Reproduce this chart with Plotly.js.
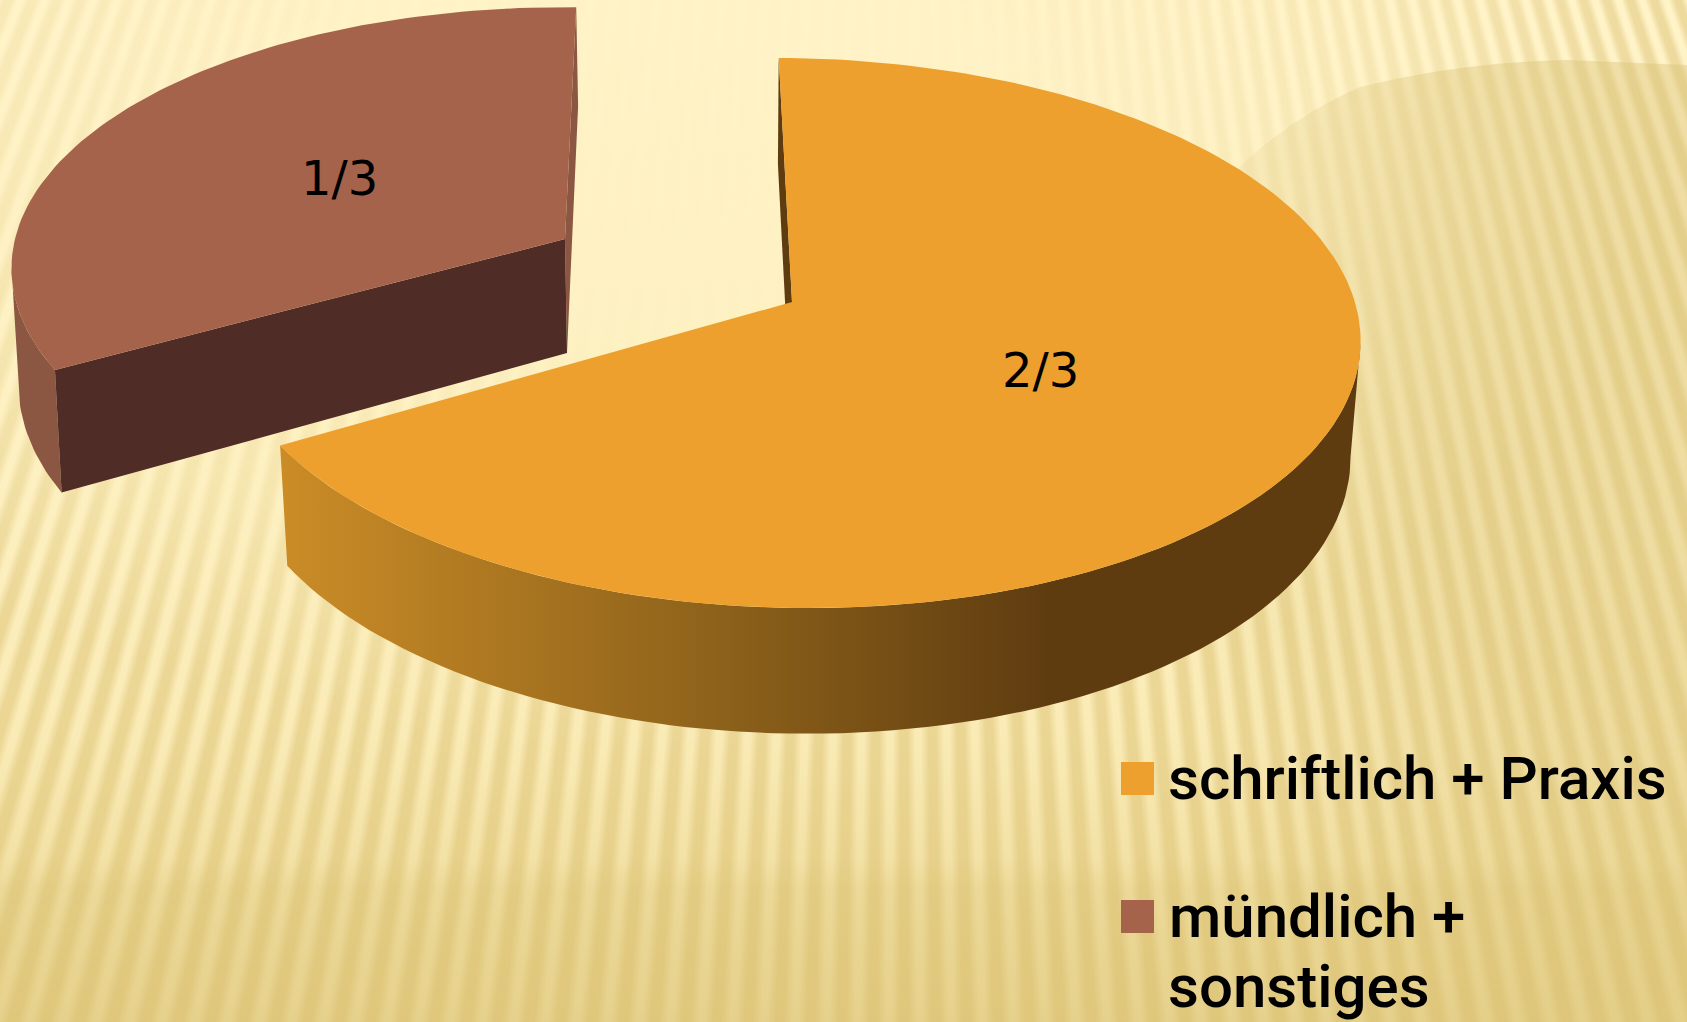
<!DOCTYPE html>
<html><head><meta charset="utf-8">
<script src="https://cdn.plot.ly/plotly-3.0.1.min.js"></script>
<style>
html,body{margin:0;padding:0;width:1687px;height:1022px;overflow:hidden;background:#fdf0c2}
.bg{position:absolute;left:0;top:0;width:1687px;height:1022px}
#base{background:linear-gradient(180deg,#fff3c8 0%,#fdf0c0 50%,#faebb6 72%,#f3e2a6 84%,#ecd998 87%,#e6d18c 100%)}
#stripes{background:repeating-conic-gradient(from 150deg at 900px -2217px,rgba(214,184,100,0) 0deg,rgba(214,184,100,.42) .15deg,rgba(214,184,100,.42) .29deg,rgba(214,184,100,0) .44deg,rgba(214,184,100,0) .55deg);
-webkit-mask-image:radial-gradient(ellipse 1000px 620px at 660px 130px,rgba(0,0,0,.03) 35%,rgba(0,0,0,.5) 75%,#000 100%);mask-image:radial-gradient(ellipse 1000px 620px at 660px 130px,rgba(0,0,0,.03) 35%,rgba(0,0,0,.5) 75%,#000 100%)}
#disc{background:radial-gradient(ellipse 560px 900px at 1687px 300px,rgba(214,190,112,.40) 0%,rgba(214,190,112,.36) 50%,rgba(214,190,112,0) 100%);
clip-path:path('M1150 250 L1250 157 Q1300 113 1360 87 Q1460 62 1567 60 L1687 65 L1687 1022 L1000 1022 L1000 600 Z')}
#chart{position:absolute;left:0;top:0;width:1687px;height:1022px}
</style></head><body>
<div class="bg" id="base"></div><div class="bg" id="stripes"></div><div class="bg" id="disc"></div>
<div id="chart"></div>
<script>
const categories = ["schriftlich + Praxis", "mündlich +", "sonstiges"];
const shares = [2/3, 1/3];
const shareLabels = ["2/3", "1/3"];
const sliceColors = ["#EDA02D", "#A5634C"];

// perspective rim of a disc: value fraction -> picture coordinates
const K = 0.1127;
function rim(d, frac){
  const th = (d.start + frac*360)*Math.PI/180, w = 1 + K*Math.cos(th);
  return [d.ax + d.A*Math.sin(th)/w, d.ay + (-d.B*Math.cos(th) + d.s*Math.sin(th))/w];
}
function arc(d, f0, f1, n){
  const p=[]; for(let i=0;i<=n;i++) p.push(rim(d, f0+(f1-f0)*i/n)); return p;
}
function poly(pts, color, name, extra){
  return Object.assign({type:"scatter",mode:"lines",x:pts.map(p=>p[0]),y:pts.map(p=>p[1]),fill:"toself",
    fillcolor:color,line:{width:0,color:color},name:name,hoverinfo:"skip",showlegend:false},extra||{});
}
const oTop={ax:792,ay:302,A:565,B:271.5,s:8,start:-1.5};
const oBot={ax:791,ay:417,A:556,B:280.9,s:8,start:-1.5};
const bTop={ax:565,ay:239,A:550,B:258,s:0,start:241.3};
const bBot={ax:567,ay:353,A:545,B:275,s:0,start:241.3};

const f=shares[0], g=shares[1];
const oApex=[oTop.ax,oTop.ay], oApexB=[oBot.ax,oBot.ay], bApex=[bTop.ax,bTop.ay], bApexB=[bBot.ax,bBot.ay];
const traces=[
  // exploded slice
  poly(arc(bTop,0,0.0625,20).concat(arc(bBot,0,0.0625,20).reverse()),"#8B5743",categories[1]),
  poly([bApex,rim(bTop,g),rim(bBot,g),bApexB],"#8B5743",categories[1]),
  poly([bApex,rim(bTop,0),rim(bBot,0),bApexB],"#4F2C25",categories[1]),
  poly([bApex].concat(arc(bTop,0,g,90)),sliceColors[1],categories[1]),
  // main slice
  poly([oApex,rim(oTop,0),rim(oBot,0),oApexB],"#5F3C10",categories[0]),
  poly(arc(oTop,0.272,f,90).concat(arc(oBot,0.272,f,90).reverse()),"#5F3C10",categories[0],
    {fillgradient:{type:"horizontal",start:281,stop:1050,
      colorscale:[[0,"#CB8C27"],[0.55,"#8F631B"],[1,"#5F3C10"]]}}),
  poly([oApex].concat(arc(oTop,0,f,180)),sliceColors[0],categories[0])
];
const legendFont={family:"Roboto",size:60,weight:500,color:"#000"};
const labelFont={family:"DejaVu Sans",size:48,color:"#000"};
const layout={
  width:1687,height:1022,margin:{l:0,r:0,t:0,b:0},paper_bgcolor:"rgba(0,0,0,0)",plot_bgcolor:"rgba(0,0,0,0)",
  showlegend:false,hovermode:false,
  xaxis:{range:[0,1687],visible:false,fixedrange:true},
  yaxis:{range:[1022,0],visible:false,fixedrange:true},
  shapes:[
    {type:"rect",x0:1121,x1:1154,y0:762,y1:795,fillcolor:sliceColors[0],line:{width:0}},
    {type:"rect",x0:1121,x1:1154,y0:900,y1:933,fillcolor:sliceColors[1],line:{width:0}}
  ],
  annotations:[
    {x:1040,y:370,text:shareLabels[0],showarrow:false,font:labelFont},
    {x:339,y:178,text:shareLabels[1],showarrow:false,font:labelFont},
    {x:1166,y:778,text:categories[0],showarrow:false,xanchor:"left",yanchor:"middle",font:legendFont},
    {x:1167,y:916,text:categories[1],showarrow:false,xanchor:"left",yanchor:"middle",font:legendFont},
    {x:1166,y:986,text:categories[2],showarrow:false,xanchor:"left",yanchor:"middle",font:legendFont}
  ]
};
Plotly.newPlot("chart",traces,layout,{displayModeBar:false,staticPlot:true});
</script></body></html>
